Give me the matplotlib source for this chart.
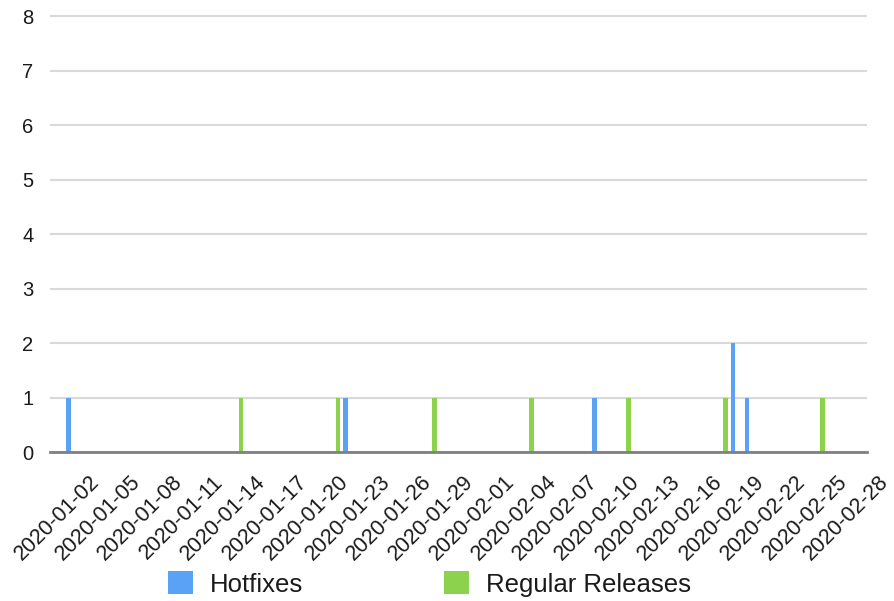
import matplotlib
matplotlib.use("Agg")
import matplotlib.pyplot as plt
import matplotlib.dates as mdates
from matplotlib.patches import Patch
import numpy as np

plt.rcParams['font.family'] = ['Liberation Sans', 'DejaVu Sans']

# Release counts per day
hotfix_dates = ["2020-01-03", "2020-01-23", "2020-02-10", "2020-02-20", "2020-02-21"]
hotfix_counts = [1, 1, 1, 2, 1]

release_dates = ["2020-01-15", "2020-01-22", "2020-01-29", "2020-02-05",
                 "2020-02-12", "2020-02-19", "2020-02-26"]
release_counts = [1, 1, 1, 1, 1, 1, 1]

tick_dates = ["2020-01-02", "2020-01-05", "2020-01-08", "2020-01-11", "2020-01-14",
              "2020-01-17", "2020-01-20", "2020-01-23", "2020-01-26", "2020-01-29",
              "2020-02-01", "2020-02-04", "2020-02-07", "2020-02-10", "2020-02-13",
              "2020-02-16", "2020-02-19", "2020-02-22", "2020-02-25", "2020-02-28"]
y_ticks = [0, 1, 2, 3, 4, 5, 6, 7, 8]

series_names = ["Hotfixes", "Regular Releases"]
BLUE = "#5aa2f6"
GREEN = "#8dd24c"


def to_num(dates):
    return mdates.date2num(np.array(dates, dtype="datetime64[D]"))


fig = plt.figure(figsize=(8.94, 6.01), dpi=100)
ax = fig.add_axes([0.0559, 0.2479, 0.9139, 0.7300])

bar_w = 0.32
ax.bar(to_num(hotfix_dates) - 0.17, hotfix_counts, width=bar_w, color=BLUE,
       zorder=3, linewidth=0)
ax.bar(to_num(release_dates) + 0.28, release_counts, width=bar_w, color=GREEN,
       zorder=3, linewidth=0)

x0 = mdates.date2num(np.datetime64("2020-01-01T12:00"))
x1 = mdates.date2num(np.datetime64("2020-02-29T12:00"))
ax.set_xlim(x0, x1)
ax.set_ylim(0, 8.05)

ax.set_yticks(y_ticks)
ax.set_yticklabels([str(v) for v in y_ticks])
ax.set_xticks(to_num(tick_dates))
ax.set_xticklabels(tick_dates, rotation=45, ha="center", va="top")

ax.tick_params(axis="x", length=0, pad=14, labelsize=15.5, labelcolor="#1a1a1a")
ax.tick_params(axis="y", length=0, pad=12, labelsize=14.5, labelcolor="#1a1a1a")

ax.yaxis.grid(True, color="#d9d9d9", linewidth=1.5, zorder=0)
ax.xaxis.grid(False)
ax.set_axisbelow(True)

for side in ("top", "right", "left"):
    ax.spines[side].set_visible(False)
ax.spines["bottom"].set_color("#808080")
ax.spines["bottom"].set_linewidth(2)
ax.spines["bottom"].set_zorder(4)

# One legend entry per series, each anchored at its own swatch position
legend_x = [168 / 894, 444 / 894]
for name, color, lx in zip(series_names, [BLUE, GREEN], legend_x):
    fig.legend([Patch(facecolor=color, edgecolor="none")], [name],
               loc="center left", bbox_to_anchor=(lx, 1 - 584 / 601),
               frameon=False, fontsize=18.5, handlelength=0.98,
               handleheight=0.98, handletextpad=0.66, borderpad=0,
               borderaxespad=0, labelcolor="#1a1a1a")

fig.savefig("out.png", dpi=100)
